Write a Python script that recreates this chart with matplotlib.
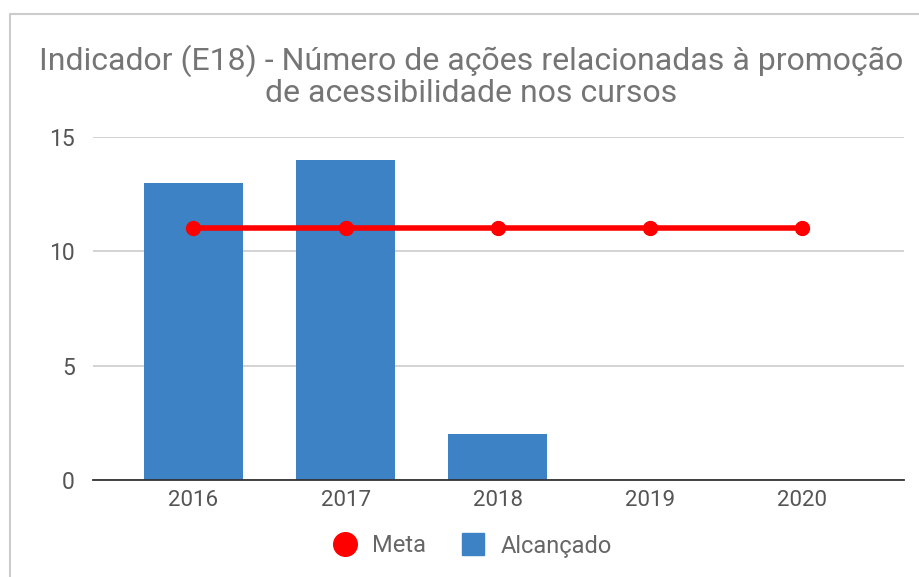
import matplotlib
matplotlib.use("Agg")
import matplotlib.pyplot as plt
from matplotlib.patches import Rectangle
from matplotlib.lines import Line2D

plt.rcParams['font.family'] = ['Roboto', 'DejaVu Sans']

years = ['2016', '2017', '2018', '2019', '2020']
alcancado = [13, 14, 2, 0, 0]
meta = [11, 11, 11, 11, 11]
yticks = [0, 5, 10, 15]

W, H = 919, 577
fig = plt.figure(figsize=(W / 100, H / 100), dpi=100)
fig.patch.set_facecolor('white')

# outer frame
fig.add_artist(Rectangle((10 / W, -0.05), 1.0, (H - 14) / H + 0.05,
                         transform=fig.transFigure, fill=False,
                         edgecolor='#cccccc', linewidth=1.5))

ax = fig.add_axes([93 / W, (H - 480) / H, (904 - 93) / W, (480 - 137) / H])
x = list(range(len(years)))
ax.bar(x, alcancado, width=0.65, color='#3d82c4', zorder=2)
ax.plot(x, meta, color='#ff0000', linewidth=4, marker='o', markersize=10, zorder=3)

ax.set_xlim(-0.66, 4.67)
ax.set_ylim(0, 15)
ax.set_yticks(yticks)
ax.set_yticklabels([str(v) for v in yticks], fontsize=16.5, color='#555555')
ax.set_xticks(x)
ax.set_xticklabels(years, fontsize=16, color='#555555')
ax.tick_params(axis='both', length=0)
ax.tick_params(axis='y', pad=13)
ax.tick_params(axis='x', pad=7)
ax.grid(axis='y', color='#cccccc', linewidth=1.2, zorder=0)
for s in ['top', 'right', 'left']:
    ax.spines[s].set_visible(False)
ax.spines['bottom'].set_color('#333333')
ax.spines['bottom'].set_linewidth(1.3)
ax.spines['bottom'].set_zorder(4)

fig.text(471 / W, 1 - 61 / H, 'Indicador (E18) - Número de ações relacionadas à promoção',
         ha='center', va='center', fontsize=23, color='#757575')
fig.text(471 / W, 1 - 93 / H, 'de acessibilidade nos cursos',
         ha='center', va='center', fontsize=23, color='#757575')

handles = [Line2D([], [], marker='o', linestyle='none', markersize=17, color='#ff0000'),
           Line2D([], [], marker='s', linestyle='none', markersize=16, color='#3d82c4')]
fig.legend(handles, ['Meta', 'Alcançado'], loc='center', bbox_to_anchor=(471 / W, 1 - 546 / H),
           ncol=2, frameon=False, fontsize=17, labelcolor='#666666',
           handletextpad=0.55, columnspacing=1.4, handlelength=1.2)

fig.savefig('out.png', dpi=100, facecolor='white')
